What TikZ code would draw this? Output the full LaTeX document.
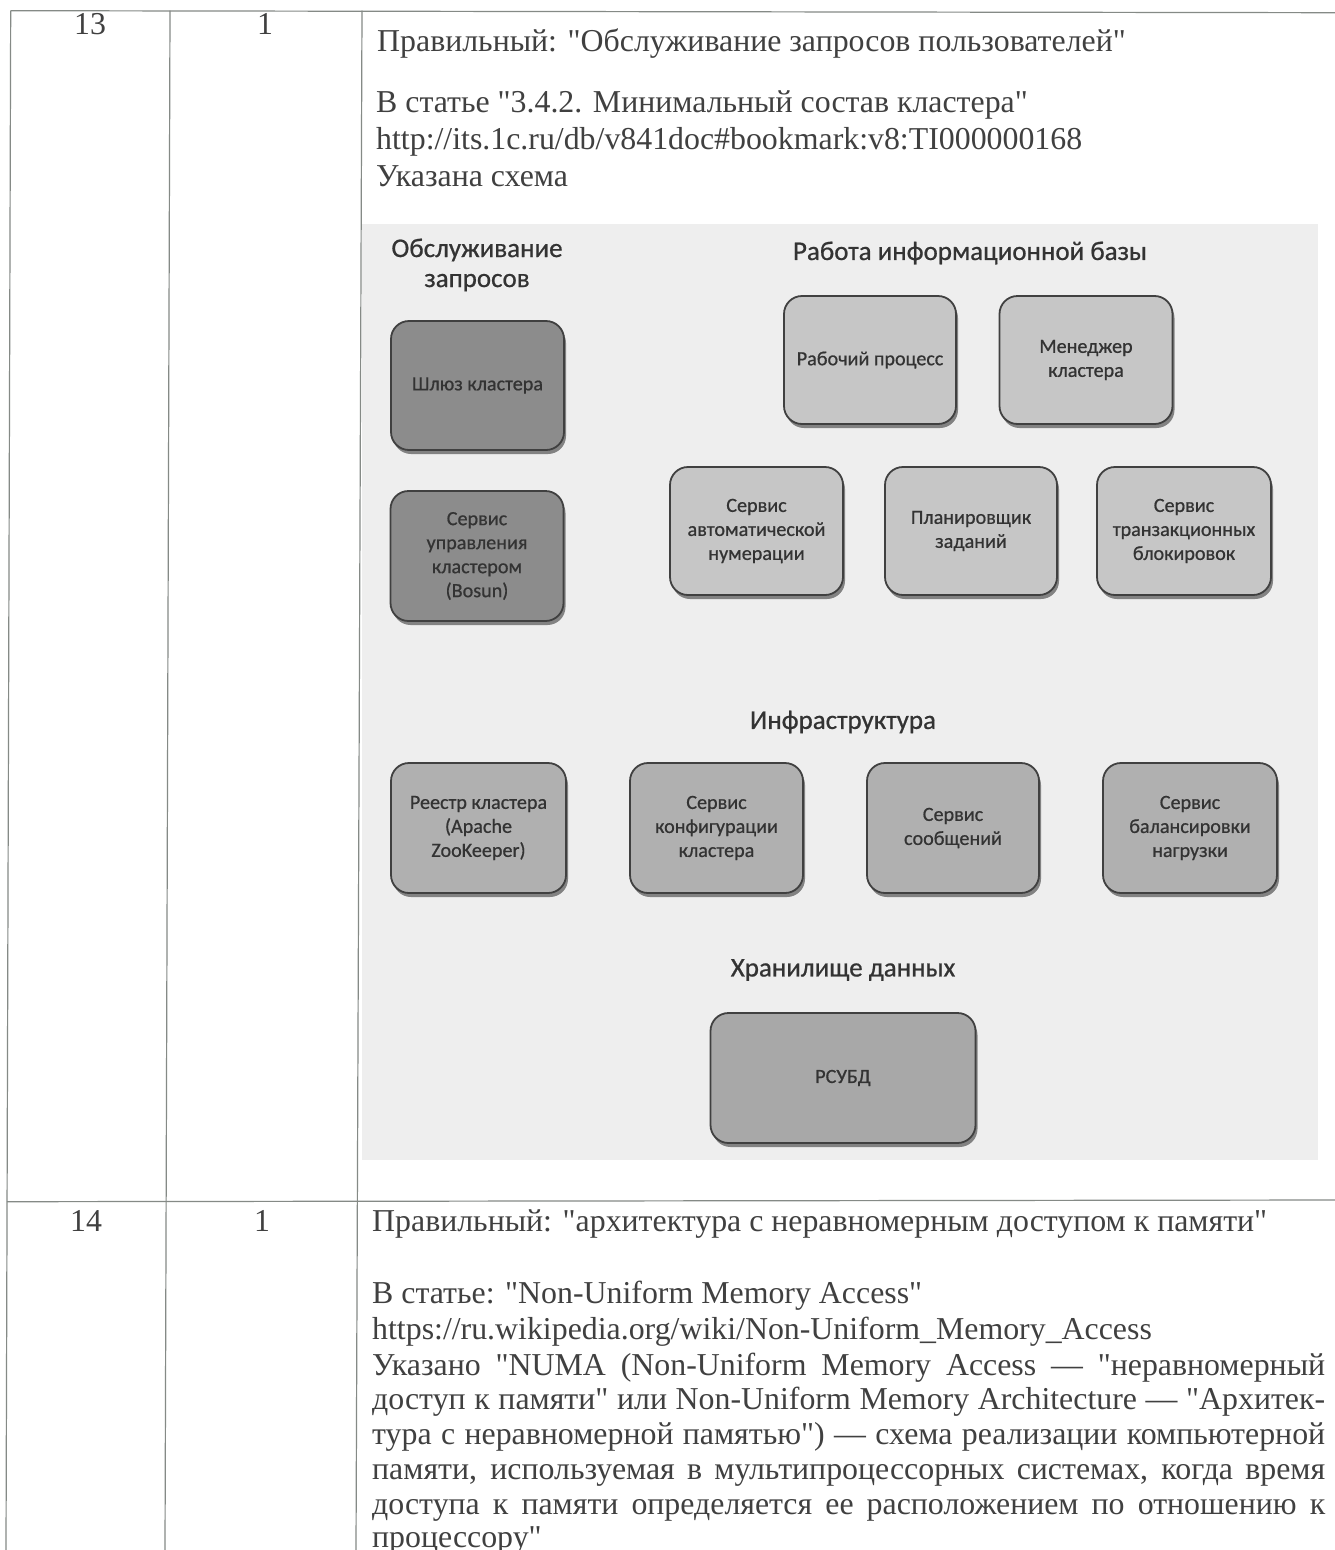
\documentclass[tikz,border=0pt]{standalone}
\usepackage{fontspec}
\setmainfont{Liberation Serif}[Ligatures=TeXOff]
\newfontfamily\calfont{Carlito}[FakeBold=0.7]
\usetikzlibrary{shadows}
\newlength\mylenA
\newlength\mylenB
\newlength\mylenC
\definecolor{txtc}{HTML}{404040}
\definecolor{linec}{HTML}{858a86}
\definecolor{bgc}{HTML}{EEEEEE}
\definecolor{darkf}{HTML}{8C8C8C}
\definecolor{lightf}{HTML}{C6C6C6}
\definecolor{midf}{HTML}{B0B0B0}
\definecolor{dbf}{HTML}{A8A8A8}
\definecolor{bordc}{HTML}{404040}
\definecolor{btxt}{HTML}{333333}
\begin{document}
\settowidth\mylenA{\fontsize{10}{12}\selectfont Правильный: "архитектура с неравномерным доступом к памяти"}%
\pgfmathsetmacro\fsA{10*895/\mylenA}%
\settowidth\mylenB{\calfont\fontsize{10}{12}\selectfont Работа информационной базы}%
\pgfmathsetmacro\fsH{10*354/\mylenB}%
\settowidth\mylenC{\calfont\fontsize{10}{12}\selectfont Шлюз кластера}%
\pgfmathsetmacro\fsB{10*131/\mylenC}%
\begin{tikzpicture}[x=1pt,y=-1pt]
\tikzset{
  txt/.style={font=\fontsize{\fsA}{\fsA}\selectfont, anchor=base west, inner sep=0pt, text=txtc},
  num/.style={font=\fontsize{\fsA}{\fsA}\selectfont, anchor=base, inner sep=0pt, text=txtc},
  tline/.style={draw=linec, line width=1.2pt},
  head/.style={font=\calfont\fontsize{\fsH}{30}\selectfont, align=center, inner sep=0pt, text=btxt},
  cbox/.style={draw=bordc, line width=1.8pt, rounded corners=18pt, align=center,
    font=\calfont\fontsize{\fsB}{24}\selectfont, text=btxt, inner sep=0pt,
    drop shadow={shadow xshift=2pt, shadow yshift=-4pt, fill=black, opacity=0.45}},
  darkbox/.style={cbox, fill=darkf},
  lightbox/.style={cbox, fill=lightf},
  midbox/.style={cbox, fill=midf},
  dbbox/.style={cbox, fill=dbf}
}
\path[use as bounding box, fill=white] (0,0) rectangle (1335,1550);
% embedded picture background
\fill[bgc] (362,224) rectangle (1318,1160);
% table lines
\draw[tline] (10.7,10.7) -- (1335,12.7);
\draw[tline] (7,1201.7) -- (1335,1200);
\draw[tline] (10.7,10.7) -- (6,1550);
\draw[tline] (170,10.7) -- (165,1550);
\draw[tline] (362,10.7) -- (356,1550);
% row 13 text
\node[num] (n13) at (90,34) {13};
\node[num] (n13b) at (265,34) {1};
\node[txt] (r1) at (377,51) {Правильный: "Обслуживание запросов пользователей"};
\node[txt] (r2) at (376,112) {В статье "3.4.2. Минимальный состав кластера"};
\node[txt] (r3) at (376,149) {http://its.1c.ru/db/v841doc\#bookmark:v8:TI000000168};
\node[txt] (r4) at (376,186) {Указана схема};
% diagram
\node[head] (h1) at (477,265) {Обслуживание\\запросов};
\node[head] (h2) at (970,253) {Работа информационной базы};
\node[darkbox, minimum width=173pt, minimum height=129pt] (gw) at (477.5,385.5) {Шлюз кластера};
\node[darkbox, minimum width=173pt, minimum height=130pt] (bosun) at (477,556) {Сервис\\управления\\кластером\\(Bosun)};
\node[lightbox, minimum width=172pt, minimum height=128pt] (rp) at (870,360) {Рабочий процесс};
\node[lightbox, minimum width=173pt, minimum height=128pt] (mgr) at (1086,360) {Менеджер\\кластера};
\node[lightbox, minimum width=173pt, minimum height=128pt] (auto) at (756.5,531) {Сервис\\автоматической\\нумерации};
\node[lightbox, minimum width=172pt, minimum height=128pt] (plan) at (971,531) {Планировщик\\заданий};
\node[lightbox, minimum width=174pt, minimum height=128pt] (trans) at (1184,531) {Сервис\\транзакционных\\блокировок};
\node[head] (h3) at (843,722) {Инфраструктура};
\node[midbox, minimum width=175pt, minimum height=130pt] (zk) at (478.5,828) {Реестр кластера\\(Apache\\ZooKeeper)};
\node[midbox, minimum width=173pt, minimum height=130pt] (conf) at (716.5,828) {Сервис\\конфигурации\\кластера};
\node[midbox, minimum width=172pt, minimum height=130pt] (msg) at (953,828) {Сервис\\сообщений};
\node[midbox, minimum width=174pt, minimum height=130pt] (bal) at (1190,828) {Сервис\\балансировки\\нагрузки};
\node[head] (h4) at (843,970) {Хранилище данных};
\node[dbbox, minimum width=265pt, minimum height=130pt] (db) at (843,1078) {РСУБД};
% row 14 text
\node[num] (n14) at (86,1231) {14};
\node[num] (n14b) at (262,1231) {1};
\node[txt] (s1) at (372,1231) {Правильный: "архитектура с неравномерным доступом к памяти"};
\node[txt] (s2) at (372,1303) {В статье: "Non-Uniform Memory Access"};
\node[txt] (s3) at (372,1339) {https://ru.wikipedia.org/wiki/Non-Uniform\_Memory\_Access};
\node[txt] (s4) at (372,1375) {\makebox[953pt][s]{Указано "NUMA (Non-Uniform Memory Access — "неравномерный}};
\node[txt] (s5) at (372,1409) {\makebox[953pt][s]{доступ к памяти" или Non-Uniform Memory Architecture — "Архитек-}};
\node[txt] (s6) at (372,1444) {\makebox[953pt][s]{тура с неравномерной памятью") — схема реализации компьютерной}};
\node[txt] (s7) at (372,1479) {\makebox[953pt][s]{памяти, используемая в мультипроцессорных системах, когда время}};
\node[txt] (s8) at (372,1514) {\makebox[953pt][s]{доступа к памяти определяется ее расположением по отношению к}};
\node[txt] (s9) at (372,1547) {процессору"};
\end{tikzpicture}
\end{document}
